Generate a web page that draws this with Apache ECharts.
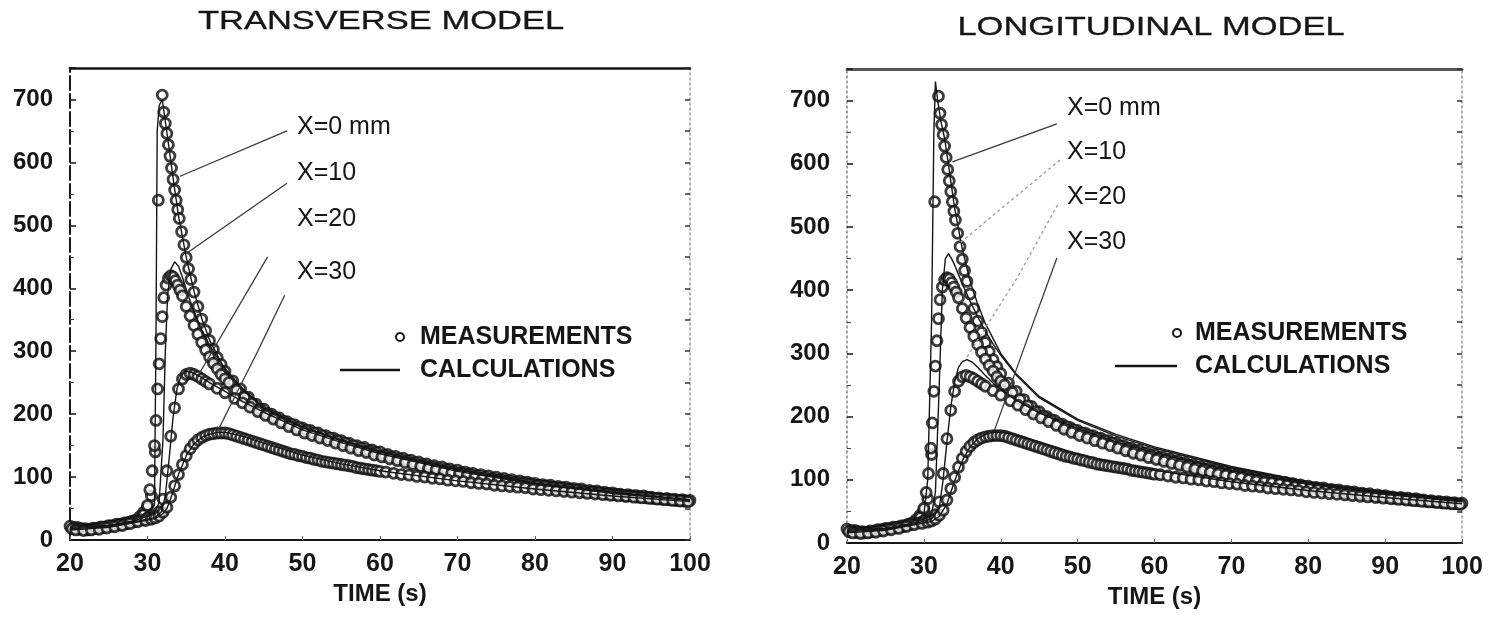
<!doctype html>
<html lang="en">
<head>
<meta charset="UTF-8">
<title>Transverse / longitudinal model</title>
<style>
  html, body { margin: 0; padding: 0; background: #fff; }
  #main { width: 1501px; height: 617px; }
</style>
</head>
<body>
<div id="main"></div>
<script src="https://cdn.jsdelivr.net/npm/echarts@6/dist/echarts.min.js"></script>
<script>
// x ticks (TIME, s) and y ticks
var timeTicks = [20, 30, 40, 50, 60, 70, 80, 90, 100];
var valueTicks = [0, 100, 200, 300, 400, 500, 600, 700];

var measX0 = [[20,22],[21,20],[22,18],[23,19],[24,21],[25,23],[26,25],[27,27],[28,30],[29,37],[29.5,44],[30,52],[30.5,70],[31,140],[31.4,540],[31.9,707],[32.1,680],[32.3,662],[32.5,646],[32.7,628],[32.9,610],[33.1,591],[33.3,573],[33.5,556],[33.7,540],[33.9,525],[34.1,511],[34.4,490],[34.7,469],[35,449],[35.3,431],[35.6,414],[36,394],[36.5,371],[37,351],[37.5,333],[38,317],[38.5,303],[39,290],[39.5,279],[40,268],[41,253],[42,240],[43,227],[44,216],[45,208],[46,200],[47,194],[48,188],[49,183],[50,178],[51,174],[52,170],[53,166],[54,162],[55,158],[56,154],[57,150],[58,147],[59,143],[60,140],[61,136],[62,133],[63,130],[64,127],[65,124],[66,121],[67,118],[68,116],[69,113],[70,111],[71,108],[72,106],[73,104],[74,102],[75,100],[76,98],[77,96],[78,94],[79,92],[80,90],[81,88],[82,87],[83,85],[84,84],[85,82],[86,81],[87,79],[88,78],[89,76],[90,75],[91,73],[92,72],[93,71],[94,70],[95,68],[96,67],[97,66],[98,65],[99,64],[100,63]];
var measX10 = [[20.5,20],[21.5,18],[22.5,17],[23.5,19],[24.5,21],[25.5,23],[26.5,25],[27.5,28],[28.5,32],[29.5,40],[30,55],[30.3,80],[30.6,110],[30.9,150],[31.1,190],[31.3,240],[31.5,280],[31.7,320],[31.9,355],[32.1,385],[32.4,405],[32.7,416],[33,420],[33.3,418],[33.6,412],[33.9,405],[34.2,397],[34.5,388],[35,371],[35.5,356],[36,341],[36.5,327],[37,314],[37.5,302],[38,291],[38.5,281],[39,272],[39.5,263],[40,256],[40.5,250],[41.5,238],[42.5,227],[43.5,217],[44.5,208],[45.5,201],[46.5,195],[47.5,189],[48.5,184],[49.5,179],[50.5,174],[51.5,170],[52.5,166],[53.5,162],[54.5,158],[55.5,154],[56.5,150],[57.5,146],[58.5,142],[59.5,139],[60.5,135],[61.5,132],[62.5,129],[63.5,126],[64.5,123],[65.5,120],[66.5,117],[67.5,114],[68.5,112],[69.5,109],[70.5,107],[71.5,105],[72.5,102],[73.5,100],[74.5,98],[75.5,96],[76.5,94],[77.5,92],[78.5,91],[79.5,89],[80.5,87],[81.5,86],[82.5,84],[83.5,83],[84.5,81],[85.5,80],[86.5,78],[87.5,77],[88.5,75],[89.5,74],[90.5,73],[91.5,71],[92.5,70],[93.5,69],[94.5,68],[95.5,66],[96.5,65],[97.5,64],[98.5,63],[99.5,62]];
var measX20 = [[20.25,18],[21.25,17],[22.25,16],[23.25,18],[24.25,20],[25.25,22],[26.25,24],[27.25,26],[28.25,29],[29.25,32],[30,35],[31,38],[31.5,45],[32,65],[32.5,110],[33,165],[33.5,210],[34,240],[34.5,256],[35,263],[35.5,265],[36,263],[36.5,260],[37,256],[37.5,252],[38,248],[39,241],[40,234],[41.25,225],[42.25,218],[43.25,211],[44.25,204],[45.25,198],[46.25,192],[47.25,186],[48.25,180],[49.25,175],[50.25,170],[51.25,166],[52.25,162],[53.25,158],[54.25,154],[55.25,150],[56.25,146],[57.25,142],[58.25,139],[59.25,135],[60.25,132],[61.25,129],[62.25,126],[63.25,123],[64.25,120],[65.25,117],[66.25,114],[67.25,112],[68.25,109],[69.25,107],[70.25,105],[71.25,103],[72.25,100],[73.25,98],[74.25,96],[75.25,95],[76.25,93],[77.25,91],[78.25,89],[79.25,88],[80.25,86],[81.25,85],[82.25,83],[83.25,82],[84.25,80],[85.25,79],[86.25,77],[87.25,76],[88.25,75],[89.25,73],[90.25,72],[91.25,71],[92.25,70],[93.25,68],[94.25,67],[95.25,66],[96.25,65],[97.25,64],[98.25,63],[99.25,62]];
var measX30 = [[20.75,16],[21.75,15],[22.75,16],[23.75,17],[24.75,19],[25.75,21],[26.75,23],[27.75,26],[28.75,29],[29.75,31],[30.5,33],[31,35],[31.5,38],[32,44],[32.5,52],[33,68],[33.5,86],[34,104],[34.5,120],[35,134],[35.5,145],[36,153],[36.5,159],[37,163],[37.5,166],[38,168],[38.5,169],[39,170],[39.5,170],[40,170],[40.5,169],[41,167],[41.5,165],[42,163],[42.5,161],[43,159],[43.5,157],[44,155],[44.5,153],[45,151],[45.5,149],[46,147],[46.5,145],[47,143],[47.5,141],[48,139],[48.5,137],[49,136],[49.5,134],[50,133],[50.5,131],[51,130],[51.5,128],[52,127],[52.5,125],[53,124],[53.5,123],[54,122],[54.5,121],[55,120],[55.5,119],[56,118],[56.5,117],[57,115],[57.5,114],[58,113],[58.5,112],[59,111],[59.5,110],[60,109],[60.75,108],[61.75,106],[62.75,104],[63.75,103],[64.75,101],[65.75,100],[66.75,98],[67.75,97],[68.75,95],[69.75,94],[70.75,93],[71.75,91],[72.75,90],[73.75,89],[74.75,87],[75.75,86],[76.75,85],[77.75,84],[78.75,83],[79.75,81],[80.75,80],[81.75,79],[82.75,78],[83.75,77],[84.75,76],[85.75,75],[86.75,74],[87.75,73],[88.75,72],[89.75,71],[90.75,70],[91.75,69],[92.75,68],[93.75,67],[94.75,66],[95.75,65],[96.75,64],[97.75,63],[98.75,62],[99.75,61]];

// calculated curves, transverse model
var calcTransX0 = [[20,22],[25,23],[28,30],[29,37],[30,45],[30.9,55],[31.1,330],[31.25,650],[31.5,690],[31.9,700],[32.3,665],[32.7,630],[33.3,575],[34,515],[35,449],[36,395],[37,352],[38,318],[40,270],[42,241],[45,209],[50,179],[55,159],[60,141],[70,112],[80,91],[90,76],[100,64]];
var calcTransX10 = [[20,20],[25,22],[28,29],[30,38],[31,45],[31.5,60],[32,160],[32.3,300],[32.6,390],[33,430],[33.5,442],[34,435],[34.5,418],[35,398],[36,362],[37,333],[38,310],[39,290],[40,273],[42,244],[45,210],[50,180],[55,158],[60,140],[70,111],[80,90],[90,75],[100,63]];
var calcTransX20 = [[20,18],[25,21],[28,28],[31,36],[31.8,45],[32.3,70],[32.8,130],[33.3,195],[33.8,240],[34.3,260],[34.8,267],[35.3,268],[36,265],[37,258],[38,250],[40,236],[42,222],[45,203],[50,175],[55,155],[60,137],[70,109],[80,89],[90,74],[100,63]];
var calcTransX30 = [[20,16],[25,20],[28,27],[31,34],[32,42],[32.5,50],[33,66],[33.5,85],[34,104],[35,134],[36,153],[37,163],[38,168],[39,171],[40,171],[42,166],[45,154],[50,135],[55,121],[60,110],[70,94],[80,81],[90,70],[100,61]];

// calculated curves, longitudinal model
var calcLongX0 = [[20,22],[25,23],[28,30],[29,37],[30,45],[30.5,100],[31,350],[31.3,650],[31.5,730],[31.8,700],[32.2,668],[32.7,640],[33.3,590],[34,530],[35,465],[36,415],[37,378],[38,347],[40,300],[42,268],[45,232],[50,196],[55,172],[60,152],[70,121],[80,97],[90,80],[100,67]];
var calcLongX10 = [[20,20],[25,22],[28,29],[30,38],[31,45],[31.5,80],[32,250],[32.4,400],[32.8,450],[33.2,458],[33.6,450],[34,440],[35,410],[36,383],[37,358],[38,335],[39,315],[40,297],[42,266],[45,230],[50,194],[55,169],[60,150],[70,119],[80,96],[90,79],[100,66]];
var calcLongX20 = [[20,18],[25,21],[28,28],[31,38],[32,55],[32.5,100],[33,160],[33.5,215],[34,255],[34.5,278],[35,287],[35.6,290],[36.3,286],[37,278],[38,265],[39,253],[40,243],[42,226],[45,206],[50,181],[55,160],[60,143],[70,115],[80,93],[90,77],[100,65]];
var calcLongX30 = [[20,16],[25,20],[28,27],[31,34],[32,42],[33,62],[34,98],[35,130],[36,152],[37,165],[38,172],[39,175],[40,175],[42,171],[45,160],[50,141],[55,126],[60,115],[70,97],[80,83],[90,72],[100,62]];

// leader lines from the X= labels to the curves [time, value]
var leadTrans = [
  [[48.0,650],[34.2,578]],
  [[48.0,567],[35.1,456]],
  [[45.5,450],[36.8,267]],
  [[47.7,389],[44.3,302],[39.0,172]]
];
var leadLong = [
  [[47.3,663],[33.7,603]],
  [[47.7,606],[34.7,475]],
  [[47.4,535],[42.2,421],[35.6,294]],
  [[47.3,451],[43.4,321],[39.2,179]]
];

var curveLabels = ['X=0 mm', 'X=10', 'X=20', 'X=30'];
var titles = ['TRANSVERSE MODEL', 'LONGITUDINAL MODEL'];

var ink = '#161616';
var font = 'Liberation Sans, Arial, Helvetica, sans-serif';

var chart = echarts.init(document.getElementById('main'));

function xAxes(gi) {
  return [{
    type: 'value', gridIndex: gi, min: 20, max: 100, interval: 10, position: 'bottom',
    name: 'TIME (s)', nameLocation: 'middle', nameGap: 41,
    nameTextStyle: { fontFamily: font, fontSize: 24, fontWeight: 'bold', color: ink },
    axisLine: { onZero: false, lineStyle: { color: ink, width: 2 } },
    axisTick: { inside: true, length: 4, lineStyle: { color: '#666' } },
    axisLabel: { margin: 12, fontFamily: font, fontSize: 25, fontWeight: 'bold', color: ink,
      customValues: timeTicks },
    splitLine: { show: false }
  }, {
    type: 'value', gridIndex: gi, min: 20, max: 100, position: 'top',
    axisLine: { onZero: false, lineStyle: { color: gi ? '#555' : ink, width: gi ? 3 : 2.5 } },
    axisTick: { show: false }, axisLabel: { show: false }, splitLine: { show: false }
  }];
}

function yAxes(gi) {
  return [{
    type: 'value', gridIndex: gi, min: 0, max: 750, interval: 100, position: 'left',
    axisLine: { show: true, onZero: false,
      lineStyle: gi ? { color: '#888', width: 1.5, type: [2, 3] } : { color: ink, width: 2, type: [14, 4] } },
    axisTick: { show: true, inside: true, length: 6, lineStyle: { color: ink, width: 1.5 } },
    minorTick: { show: true, splitNumber: 2, length: 4, lineStyle: { color: '#444' } },
    axisLabel: { margin: 17, fontFamily: font, fontSize: 24, fontWeight: 'bold', color: ink,
      customValues: valueTicks },
    splitLine: { show: false }, minorSplitLine: { show: false }
  }, {
    type: 'value', gridIndex: gi, min: 0, max: 750, interval: 50, position: 'right',
    axisLine: { show: true, onZero: false, lineStyle: { color: '#999', width: 1.5, type: [2, 3] } },
    axisTick: { show: true, inside: true, length: 5, lineStyle: { color: '#333', width: 1.5 } },
    axisLabel: { show: false }, splitLine: { show: false }
  }];
}

function measSeries(gi, data) {
  return {
    type: 'scatter', xAxisIndex: gi * 2, yAxisIndex: gi * 2, data: data,
    symbol: 'circle', symbolSize: 10, silent: true,
    itemStyle: { color: '#fff', borderColor: '#0d0d0d', borderWidth: 2.8 }
  };
}

function calcSeries(gi, data) {
  return {
    type: 'line', xAxisIndex: gi * 2, yAxisIndex: gi * 2, data: data,
    showSymbol: false, silent: true, z: 3,
    lineStyle: { color: ink, width: 1.4 }
  };
}

function leadSeries(gi, data, idx) {
  var faint = (gi === 1 && (idx === 1 || idx === 2));
  return {
    type: 'line', xAxisIndex: gi * 2, yAxisIndex: gi * 2, data: data,
    showSymbol: false, silent: true, z: 4,
    lineStyle: { color: faint ? '#9a9a9a' : '#3a3a3a', width: 1.3, type: faint ? [3, 3] : 'solid' }
  };
}

var series = [];
[measX0, measX10, measX20, measX30].forEach(function (d) { series.push(measSeries(0, d)); series.push(measSeries(1, d)); });
[calcTransX0, calcTransX10, calcTransX20, calcTransX30].forEach(function (d) { series.push(calcSeries(0, d)); });
[calcLongX0, calcLongX10, calcLongX20, calcLongX30].forEach(function (d) { series.push(calcSeries(1, d)); });
leadTrans.forEach(function (d, i) { series.push(leadSeries(0, d, i)); });
leadLong.forEach(function (d, i) { series.push(leadSeries(1, d, i)); });

// label text positions (px)
var labelPos = [
  { x: 297, ys: [127, 173, 219, 272] },
  { x: 1067, ys: [108, 152, 197, 242] }
];
var legendPos = [
  { cx: 400, my: 337, lx1: 340, lx2: 400, cy: 370, tx: 420 },
  { cx: 1177, my: 333, lx1: 1115, lx2: 1177, cy: 366, tx: 1195 }
];
var titlePos = [{ x: 381, y: 22 }, { x: 1151, y: 28 }];

var graphic = [];
titles.forEach(function (t, i) {
  graphic.push({ type: 'text', x: titlePos[i].x, y: titlePos[i].y, scaleX: 1.38,
    style: { text: t, fontFamily: font, fontSize: 25, fill: ink, stroke: ink, lineWidth: 0.3,
      textAlign: 'center', textVerticalAlign: 'middle' } });
});
labelPos.forEach(function (p) {
  curveLabels.forEach(function (t, k) {
    graphic.push({ type: 'text', x: p.x, y: p.ys[k],
      style: { text: t, fontFamily: font, fontSize: 25, fill: ink, textAlign: 'left', textVerticalAlign: 'middle' } });
  });
});
legendPos.forEach(function (p) {
  graphic.push({ type: 'circle', shape: { cx: p.cx, cy: p.my, r: 4 }, style: { fill: '#fff', stroke: ink, lineWidth: 2 } });
  graphic.push({ type: 'text', x: p.tx, y: p.my,
    style: { text: 'MEASUREMENTS', fontFamily: font, fontSize: 25, fontWeight: 'bold', fill: ink, textAlign: 'left', textVerticalAlign: 'middle' } });
  graphic.push({ type: 'line', shape: { x1: p.lx1, y1: p.cy, x2: p.lx2, y2: p.cy }, style: { stroke: ink, lineWidth: 2.5 } });
  graphic.push({ type: 'text', x: p.tx, y: p.cy,
    style: { text: 'CALCULATIONS', fontFamily: font, fontSize: 25, fontWeight: 'bold', fill: ink, textAlign: 'left', textVerticalAlign: 'middle' } });
});

var option = {
  animation: false,
  backgroundColor: '#fff',
  grid: [
    { left: 70, top: 68, width: 620, height: 472, show: false },
    { left: 847, top: 69, width: 615, height: 474, show: false }
  ],
  xAxis: xAxes(0).concat(xAxes(1)),
  yAxis: yAxes(0).concat(yAxes(1)),
  series: series,
  graphic: graphic
};
chart.setOption(option);
</script>
</body>
</html>
